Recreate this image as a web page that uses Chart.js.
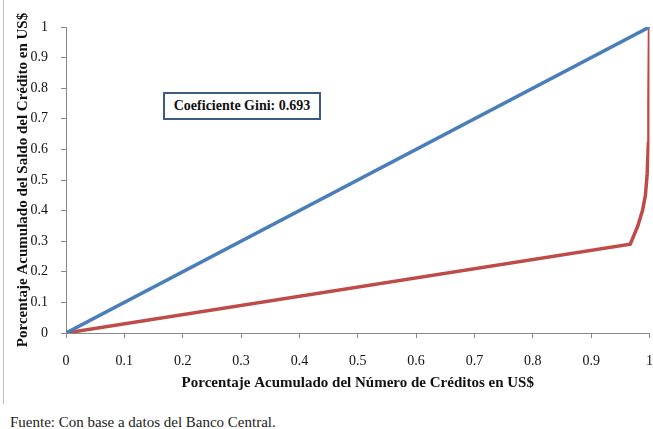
<!DOCTYPE html>
<html>
<head>
<meta charset="utf-8">
<script src="https://cdn.jsdelivr.net/npm/chart.js@4.4.1/dist/chart.umd.min.js"></script>
<style>
  body { margin: 0; background: #fff; font-family: "Liberation Serif", serif; }
  #wrap { position: relative; width: 653px; height: 429px; overflow: hidden; }
  #chartBox { position: absolute; left: 0; top: 0; width: 668px; height: 392px; }
  #leftRule { position: absolute; left: 3px; top: 0; width: 1px; height: 404px; background: #bdbdbd; }
  #gini { position: absolute; left: 163px; top: 92px; width: 154px; height: 24px; border: 2px solid #3d5a80;
          font: bold 14px "Liberation Serif", serif; text-align: center; line-height: 24px; color: #111; background: #fff; }
  #fuente { position: absolute; left: 10px; top: 414px; font: 15px "Liberation Serif", serif; color: #222; }
</style>
</head>
<body>
<div id="wrap">
  <div id="chartBox"><canvas id="lorenzChart"></canvas></div>
  <div id="leftRule"></div>
  <div id="gini">Coeficiente Gini: 0.693</div>
  <div id="fuente">Fuente: Con base a datos del Banco Central.</div>
</div>
<script>
// Datos
const equidadX = [0, 1];
const equidadY = [0, 1];
const lorenzX = [0, 0.967, 0.980, 0.988, 0.993, 0.996, 0.998, 0.999, 1];
const lorenzY = [0, 0.29, 0.35, 0.40, 0.45, 0.52, 0.62, 0.75, 1];
const tickValues = [0, 0.1, 0.2, 0.3, 0.4, 0.5, 0.6, 0.7, 0.8, 0.9, 1];

const toPoints = (xs, ys) => xs.map((x, i) => ({ x: x, y: ys[i] }));

function tickLabel(v) {
    return Math.round(v * 10) / 10 + '';
}

const serif = '"Liberation Serif", serif';

const ctx = document.getElementById('lorenzChart').getContext('2d');
new Chart(ctx, {
    type: 'line',
    data: {
        datasets: [
            {
                data: toPoints(equidadX, equidadY),
                borderColor: '#4a7ebb',
                borderWidth: 3.5,
                pointRadius: 0,
                tension: 0
            },
            {
                data: toPoints(lorenzX, lorenzY),
                borderColor: '#be4b48',
                borderWidth: 3.5,
                pointRadius: 0,
                tension: 0
            }
        ]
    },
    options: {
        responsive: true,
        maintainAspectRatio: false,
        animation: false,
        layout: { padding: { left: 14, right: 0, top: 27, bottom: 0 } },
        plugins: { legend: { display: false }, tooltip: { enabled: false } },
        scales: {
            x: {
                type: 'linear',
                min: 0,
                max: 1,
                afterBuildTicks: axis => { axis.ticks = tickValues.map(v => ({ value: v })); },
                afterFit: axis => { axis.height = 59; },
                ticks: { callback: tickLabel, color: '#111', font: { family: serif, size: 14 }, padding: 15, maxRotation: 0 },
                grid: { drawOnChartArea: false, drawTicks: true, tickLength: 5, color: '#888' },
                border: { color: '#888' },
                title: {
                    display: true,
                    text: 'Porcentaje Acumulado del Número de Créditos en US$',
                    color: '#111',
                    font: { family: serif, size: 15, weight: 'bold' },
                    padding: { top: 0, bottom: 0 }
                }
            },
            y: {
                type: 'linear',
                min: 0,
                max: 1,
                afterBuildTicks: axis => { axis.ticks = tickValues.map(v => ({ value: v })); },
                afterFit: axis => { axis.width = 52; },
                ticks: { callback: tickLabel, color: '#111', font: { family: serif, size: 14 }, padding: 13 },
                grid: { drawOnChartArea: false, drawTicks: true, tickLength: 5, color: '#888' },
                border: { color: '#888' },
                title: {
                    display: true,
                    text: 'Porcentaje Acumulado del Saldo del Crédito en US$',
                    color: '#111',
                    font: { family: serif, size: 15, weight: 'bold' },
                    padding: { top: 0, bottom: 0 }
                }
            }
        }
    }
});
</script>
</body>
</html>
